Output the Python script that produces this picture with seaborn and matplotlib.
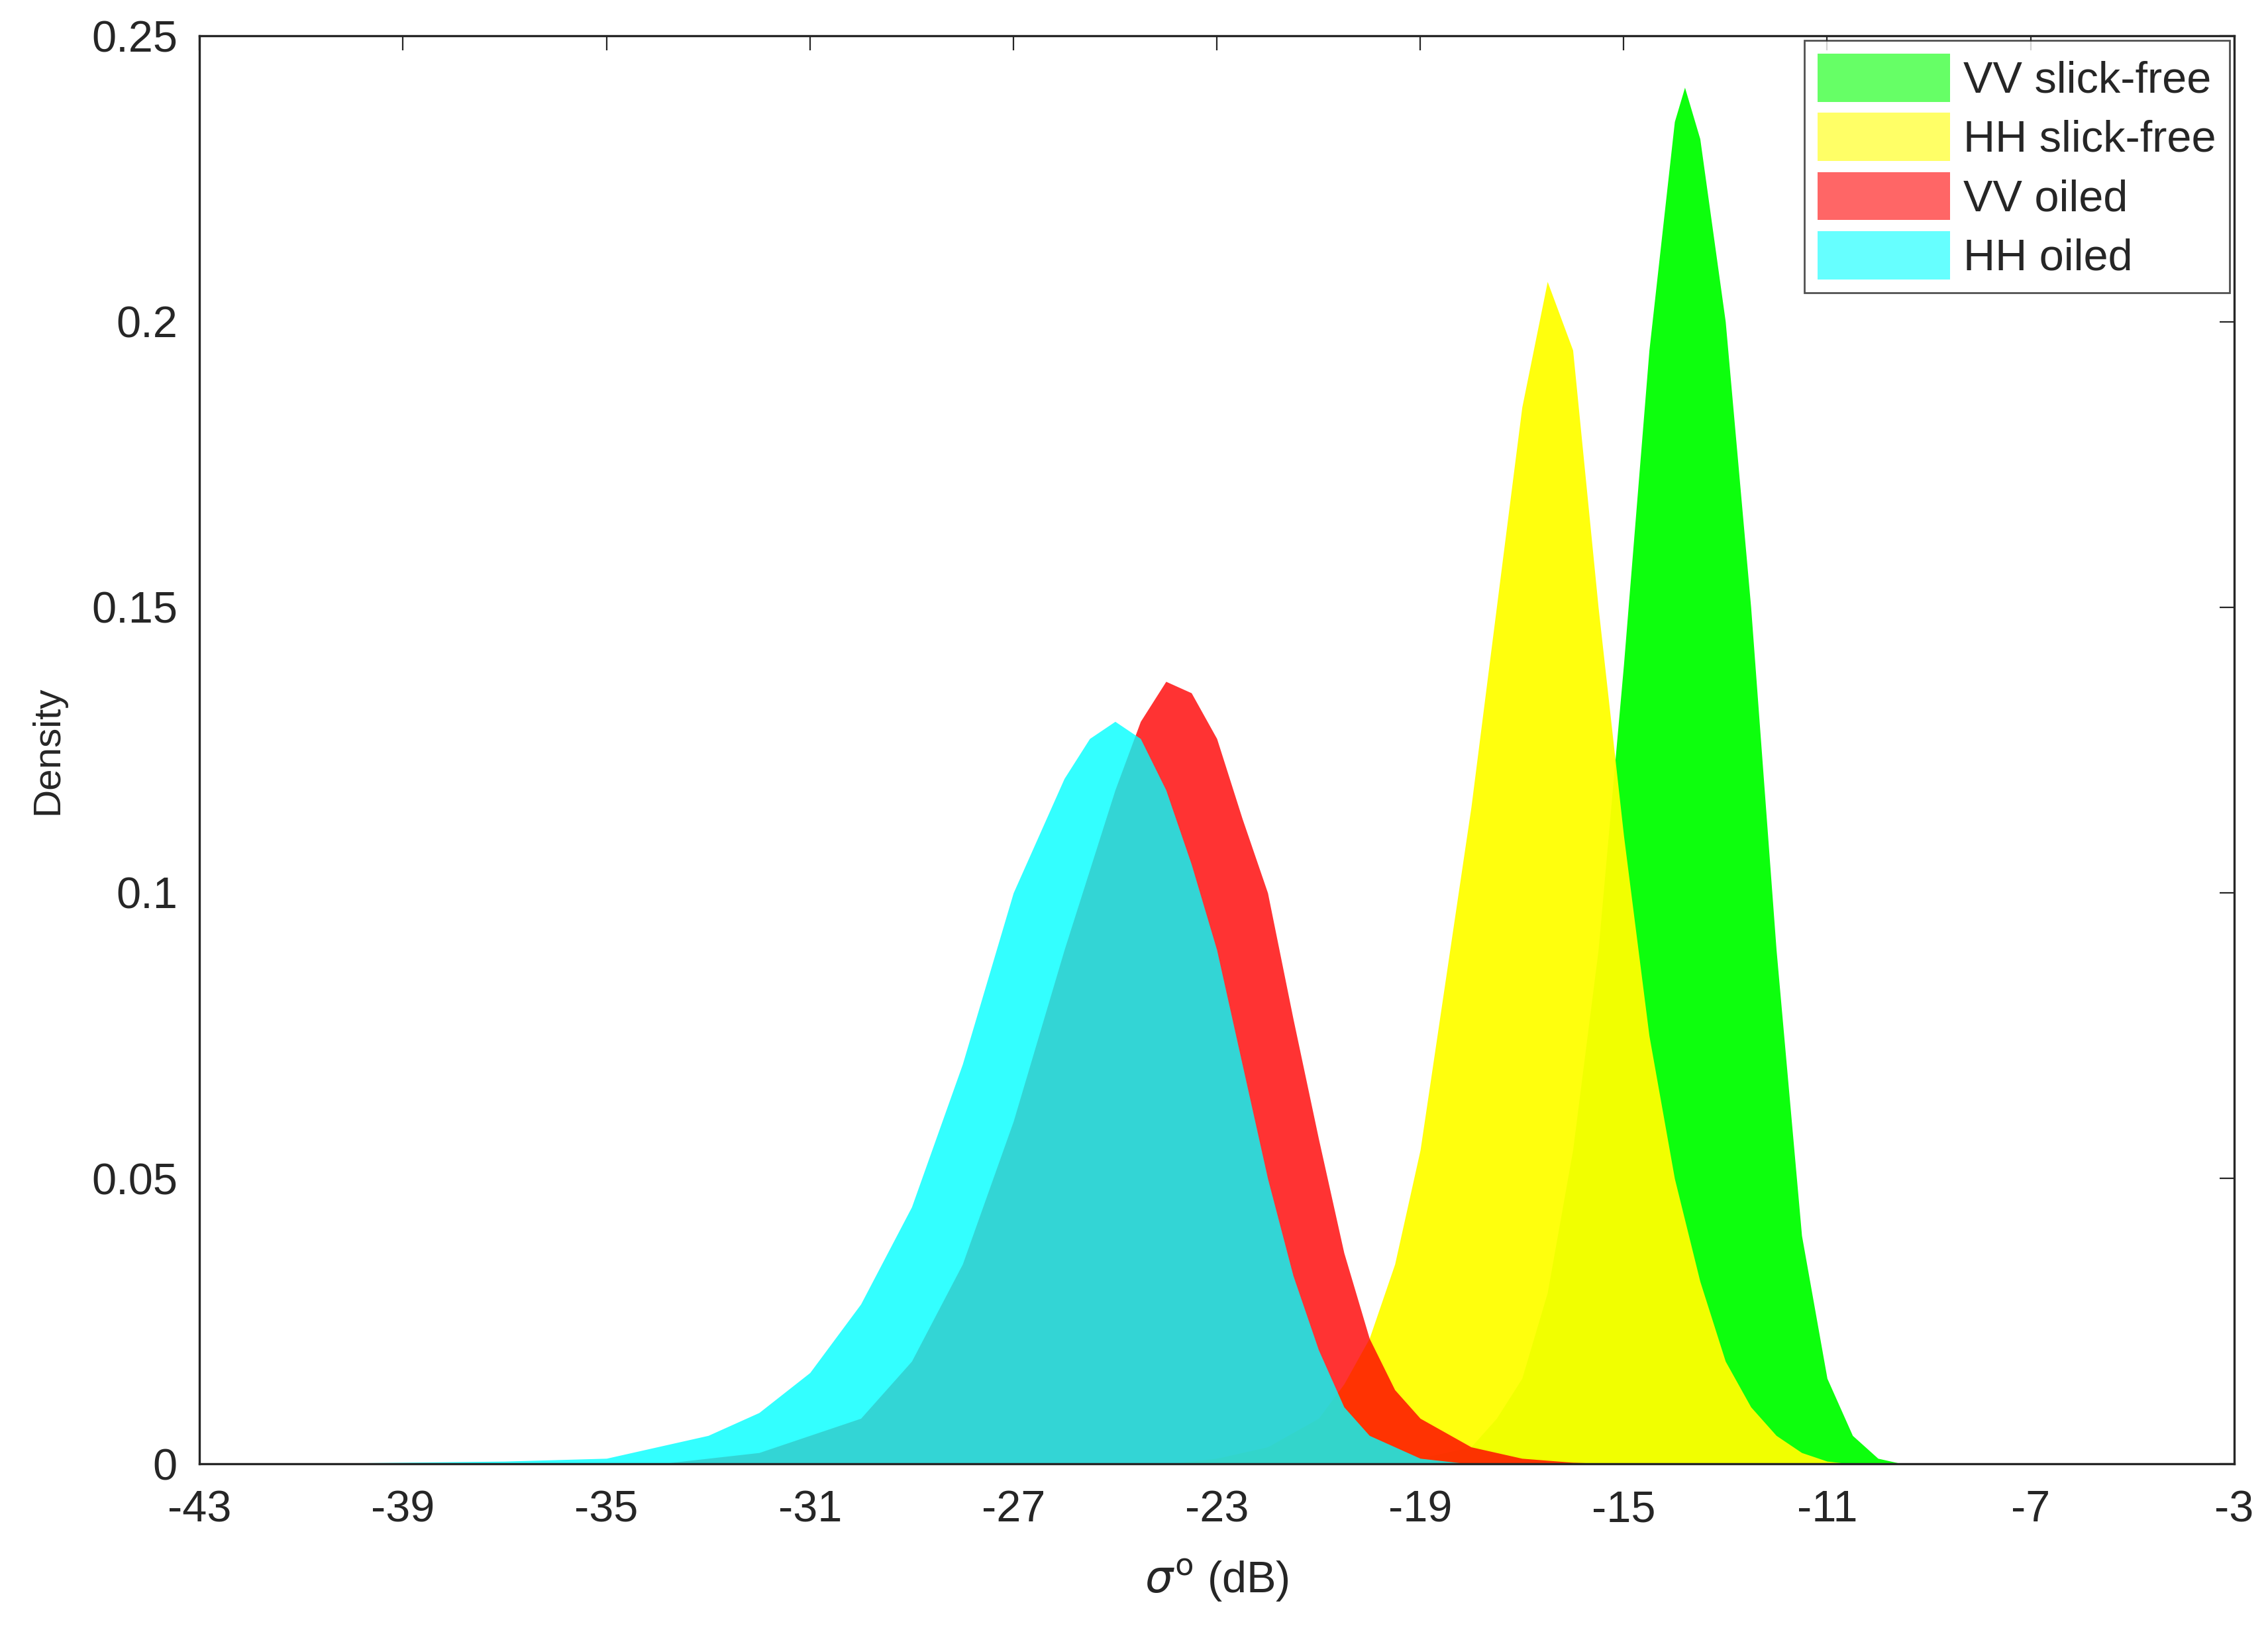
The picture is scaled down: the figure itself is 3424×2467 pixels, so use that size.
import numpy as np
import matplotlib
matplotlib.use("Agg")
import matplotlib.pyplot as plt
import seaborn as sns
import pandas as pd

sns.set_style("white")
plt.rcParams['font.family'] = ['Liberation Sans', 'DejaVu Sans']
plt.rcParams['axes.unicode_minus'] = False

vv_free_x = [-20, -19, -18, -17.5, -17, -16.5, -16, -15.5, -15, -14.5, -14, -13.8, -13.5, -13, -12.5, -12, -11.5, -11, -10.5, -10, -9.5]
vv_free_y = [0, 0.001, 0.003, 0.008, 0.015, 0.03, 0.055, 0.09, 0.14, 0.195, 0.235, 0.241, 0.232, 0.2, 0.15, 0.09, 0.04, 0.015, 0.005, 0.001, 0]
hh_free_x = [-24, -23, -22, -21, -20.5, -20, -19.5, -19, -18.5, -18, -17.5, -17, -16.5, -16, -15.5, -15, -14.5, -14, -13.5, -13, -12.5, -12, -11.5, -11, -10.5]
hh_free_y = [0, 0.001, 0.003, 0.008, 0.014, 0.022, 0.035, 0.055, 0.085, 0.115, 0.15, 0.185, 0.207, 0.195, 0.15, 0.11, 0.075, 0.05, 0.032, 0.018, 0.01, 0.005, 0.002, 0.0005, 0]
vv_oil_x = [-34, -32, -30, -29, -28, -27, -26, -25, -24.5, -24, -23.5, -23, -22.5, -22, -21.5, -21, -20.5, -20, -19.5, -19, -18, -17, -16, -15]
vv_oil_y = [0, 0.002, 0.008, 0.018, 0.035, 0.06, 0.09, 0.118, 0.13, 0.137, 0.135, 0.127, 0.113, 0.1, 0.078, 0.057, 0.037, 0.022, 0.013, 0.008, 0.003, 0.001, 0.0003, 0]
hh_oil_x = [-43, -40, -37, -35, -34, -33, -32, -31, -30, -29, -28, -27, -26, -25.5, -25, -24.5, -24, -23.5, -23, -22.5, -22, -21.5, -21, -20.5, -20, -19, -18]
hh_oil_y = [0, 0.0002, 0.0005, 0.001, 0.003, 0.005, 0.009, 0.016, 0.028, 0.045, 0.07, 0.1, 0.12, 0.127, 0.13, 0.127, 0.118, 0.105, 0.09, 0.07, 0.05, 0.033, 0.02, 0.01, 0.005, 0.001, 0]

# (name, x, y, colour, alpha, draw order)
series = [
    ("VV slick-free", vv_free_x, vv_free_y, (0.0, 1.0, 0.0), 0.95, 1),
    ("HH slick-free", hh_free_x, hh_free_y, (1.0, 1.0, 0.0), 0.95, 2),
    ("VV oiled", vv_oil_x, vv_oil_y, (1.0, 0.0, 0.0), 0.8, 3),
    ("HH oiled", hh_oil_x, hh_oil_y, (0.0, 1.0, 1.0), 0.8, 4),
]

fig = plt.figure(figsize=(17.12, 12.335), dpi=200)
ax = fig.add_axes([0.088, 0.104, 0.897, 0.874])
for name, xs, ys, c, a, z in series:
    df = pd.DataFrame({"x": xs, "y": ys})
    sns.lineplot(data=df, x="x", y="y", ax=ax, color=c, linewidth=0, legend=False)
    ax.fill_between(df["x"], 0, df["y"], color=c, alpha=a, linewidth=0, label=name, zorder=z)

ax.set_xlim(-43, -3)
ax.set_ylim(0, 0.25)
ax.set_xticks(np.arange(-43, -2, 4))
ax.set_yticks([0, 0.05, 0.1, 0.15, 0.2, 0.25])
ax.set_yticklabels(["0", "0.05", "0.1", "0.15", "0.2", "0.25"])
ax.tick_params(direction="in", length=8, labelsize=24, top=True, right=True, colors="#262626")
ax.tick_params(axis="x", pad=14)
ax.tick_params(axis="y", pad=12)
for s in ax.spines.values():
    s.set_color("#262626"); s.set_linewidth(1.2); s.set_zorder(10)
ax.set_xlabel(r"$\sigma^{\rm o}$ (dB)", fontsize=24, color="#262626", labelpad=14)
ax.set_ylabel("Density", fontsize=21, color="#262626", labelpad=14)
leg = ax.legend(loc="upper right", fontsize=24, fancybox=False, edgecolor="#262626",
                borderaxespad=0.1, handlelength=3, handleheight=1.3, labelspacing=0.25,
                handletextpad=0.3, borderpad=0.3)
leg.set_zorder(20)
for h in leg.legend_handles:
    h.set_alpha(0.6)
fig.savefig("out.png", dpi=200)
